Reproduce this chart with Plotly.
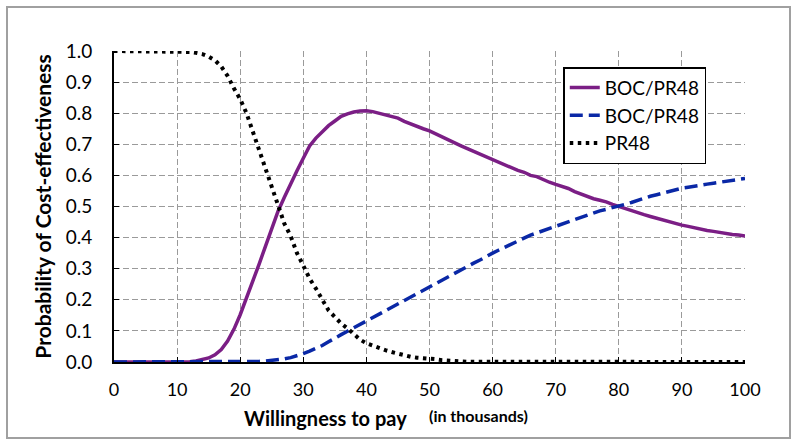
import plotly.graph_objects as go

wtp = list(range(0, 101))

boc_pr48_solid = [
    0, 0, 0, 0, 0, 0, 0, 0, 0, 0,
    0, 0, 0.001, 0.003, 0.007, 0.013, 0.023, 0.04, 0.067, 0.105,
    0.152, 0.204, 0.258, 0.315, 0.372, 0.43, 0.485, 0.53, 0.575, 0.615,
    0.655, 0.695, 0.72, 0.742, 0.76, 0.775, 0.79, 0.798, 0.804, 0.807,
    0.808, 0.805, 0.80, 0.796, 0.79, 0.784, 0.774, 0.765, 0.757, 0.75,
    0.743, 0.733, 0.722, 0.713, 0.705, 0.695, 0.686, 0.677, 0.667, 0.658,
    0.65, 0.642, 0.633, 0.625, 0.616, 0.61, 0.60, 0.596, 0.586, 0.578,
    0.571, 0.565, 0.558, 0.548, 0.54, 0.535, 0.525, 0.52, 0.515, 0.507,
    0.50, 0.494, 0.487, 0.481, 0.474, 0.468, 0.462, 0.456, 0.452, 0.445,
    0.44, 0.436, 0.431, 0.427, 0.423, 0.42, 0.416, 0.413, 0.41, 0.408,
    0.405,
]

boc_pr48_dash = [
    0, 0, 0, 0, 0, 0, 0, 0, 0, 0,
    0, 0, 0, 0, 0, 0, 0, 0, 0, 0,
    0, 0, 0.001, 0.002, 0.003, 0.005, 0.007, 0.01, 0.014, 0.02,
    0.027, 0.035, 0.043, 0.053, 0.065, 0.078, 0.088, 0.099, 0.11, 0.12,
    0.131, 0.142, 0.154, 0.165, 0.177, 0.188, 0.2, 0.21, 0.222, 0.233,
    0.243, 0.254, 0.265, 0.276, 0.287, 0.298, 0.308, 0.318, 0.328, 0.34,
    0.35, 0.36, 0.37, 0.38, 0.39, 0.4, 0.408, 0.415, 0.422, 0.43,
    0.436, 0.444, 0.452, 0.459, 0.467, 0.474, 0.48, 0.486, 0.491, 0.496,
    0.50, 0.507, 0.513, 0.52, 0.527, 0.533, 0.538, 0.544, 0.549, 0.554,
    0.559, 0.562, 0.566, 0.569, 0.572, 0.575, 0.578, 0.581, 0.584, 0.587,
    0.59,
]

pr48 = [
    1.0, 1.0, 1.0, 1.0, 1.0, 1.0, 1.0, 1.0, 1.0, 1.0,
    1.0, 1.0, 0.997, 0.994, 0.99, 0.982, 0.97, 0.95, 0.92, 0.88,
    0.845, 0.80, 0.74, 0.68, 0.625, 0.57, 0.50, 0.445, 0.405, 0.35,
    0.31, 0.268, 0.236, 0.198, 0.166, 0.145, 0.124, 0.108, 0.09, 0.072,
    0.06, 0.052, 0.044, 0.038, 0.032, 0.026, 0.021, 0.017, 0.014, 0.013,
    0.012, 0.009, 0.006, 0.004, 0.003, 0.002, 0.001, 0.001, 0.001, 0.001,
    0, 0, 0, 0, 0, 0, 0, 0, 0, 0,
    0, 0, 0, 0, 0, 0, 0, 0, 0, 0,
    0, 0, 0, 0, 0, 0, 0, 0, 0, 0,
    0, 0, 0, 0, 0, 0, 0, 0, 0, 0,
    0,
]

series_names = ["BOC/PR48", "BOC/PR48", "PR48"]
x_ticks = list(range(0, 101, 10))
y_ticks = [i / 10 for i in range(0, 11)]

FONT = "Lato, 'Open Sans', sans-serif"

fig = go.Figure()
fig.add_trace(go.Scatter(x=wtp, y=boc_pr48_solid, mode="lines", name=series_names[0],
                         line=dict(color="#7B1E85", width=3.5)))
fig.add_trace(go.Scatter(x=wtp, y=boc_pr48_dash, mode="lines", name=series_names[1],
                         line=dict(color="#0A28A6", width=3.5, dash="13px,6px")))
fig.add_trace(go.Scatter(x=wtp, y=pr48, mode="lines", name=series_names[2],
                         line=dict(color="#000000", width=4, dash="3.5px,4.5px")))

fig.update_layout(
    width=800, height=445,
    margin=dict(l=114, r=55, t=51, b=83),
    paper_bgcolor="white", plot_bgcolor="white",
    font=dict(family=FONT, color="black", size=18),
    legend=dict(
        x=0.712, y=0.948, xanchor="left", yanchor="top",
        bgcolor="white", bordercolor="black", borderwidth=1.5,
        font=dict(size=19, family=FONT), tracegroupgap=0,
    ),
    xaxis=dict(
        range=[0, 100], tickvals=x_ticks, ticks="inside", ticklen=5, tickcolor="black",
        showline=True, linecolor="black", linewidth=2,
        showgrid=True, gridcolor="#9A9A9A", gridwidth=1.3, griddash="6px,3px",
        zeroline=False, ticklabelstandoff=10, tickfont=dict(size=18),
    ),
    yaxis=dict(
        range=[0, 1.0], tickvals=y_ticks, tickformat=".1f", ticks="inside", ticklen=5,
        tickcolor="black",
        showline=True, linecolor="black", linewidth=2,
        showgrid=True, gridcolor="#9A9A9A", gridwidth=1.3, griddash="6px,3px",
        zeroline=False, ticklabelstandoff=16, tickfont=dict(size=19),
        title=dict(text="<b>Probability of Cost-effectiveness</b>", font=dict(size=21), standoff=8),
    ),
    shapes=[dict(type="rect", xref="paper", yref="paper",
                 x0=-107 / 631, x1=676 / 631, y0=-76 / 311, y1=355 / 311,
                 line=dict(color="#A0A0A0", width=2), fillcolor="rgba(0,0,0,0)", layer="below")],
    annotations=[
        dict(text="<b>Willingness to pay</b>", xref="paper", yref="paper",
             x=(325 - 114) / 631, y=-(418 - 362) / 311, xanchor="center", yanchor="middle",
             showarrow=False, font=dict(size=20)),
        dict(text="<b>(in thousands)</b>", xref="paper", yref="paper",
             x=(478 - 114) / 631, y=-(415 - 362) / 311, xanchor="center", yanchor="middle",
             showarrow=False, font=dict(size=16)),
    ],
)

fig.write_html("out.html", config={"displayModeBar": False},
               post_script="document.body.style.margin='0';")
